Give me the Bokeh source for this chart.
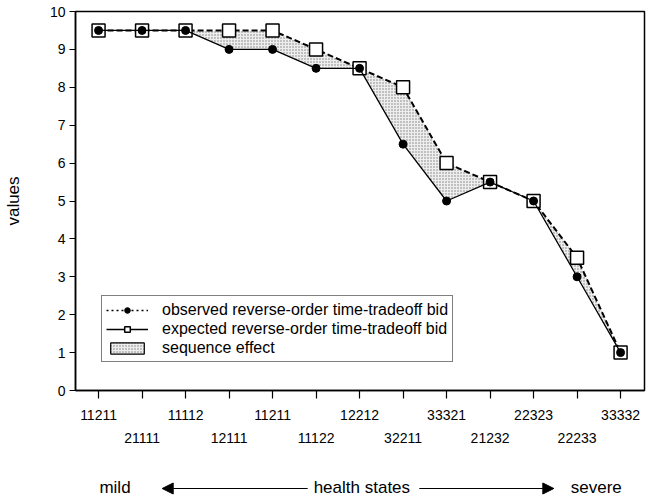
from bokeh.plotting import figure
from bokeh.layouts import column
from bokeh.models import (Range1d, FixedTicker, LinearAxis, Legend, LegendItem,
                          Arrow, NormalHead)
from bokeh.core.properties import value
from bokeh.embed import file_html
from bokeh.resources import INLINE

states = ["11211", "21111", "11112", "12111", "11211", "11122", "12212",
          "32211", "33321", "21232", "22323", "22233", "33332"]
observed = [9.5, 9.5, 9.5, 9.0, 9.0, 8.5, 8.5, 6.5, 5.0, 5.5, 5.0, 3.0, 1.0]
expected = [9.5, 9.5, 9.5, 9.5, 9.5, 9.0, 8.5, 8.0, 6.0, 5.5, 5.0, 3.5, 1.0]
y_ticks = list(range(0, 11))
caption_texts = ["mild", "health states", "severe"]
idx = list(range(len(states)))

FONT = "Liberation Sans"
W, H1, H2 = 646, 458, 38
BL, BR = 73, 2
NAN = [float("nan")]

p = figure(width=W, height=H1, output_backend="svg", toolbar_location=None,
           x_range=Range1d(-0.53, 12.55), y_range=Range1d(0, 10),
           x_axis_type=None, y_axis_type=None,
           min_border_left=BL, min_border_right=BR, min_border_top=11,
           min_border_bottom=68)
p.grid.visible = False
p.outline_line_color = "black"
p.outline_line_width = 1.5
p.background_fill_color = "white"
p.border_fill_color = "white"

# y axis
ya = LinearAxis(ticker=FixedTicker(ticks=y_ticks), axis_label="values")
ya.axis_line_width = 1.5
ya.major_tick_out = 6
ya.major_tick_in = 0
ya.major_tick_line_width = 1.2
ya.minor_tick_line_color = None
ya.major_label_text_font = FONT
ya.major_label_text_font_size = "14px"
ya.major_label_text_color = "black"
ya.major_label_standoff = 4
ya.axis_label_text_font = FONT
ya.axis_label_text_font_size = "17px"
ya.axis_label_text_font_style = "normal"
ya.axis_label_text_color = "black"
ya.axis_label_standoff = 24
p.add_layout(ya, "left")

# x axis, first row of labels
xa1 = LinearAxis(ticker=FixedTicker(ticks=idx))
xa1.major_label_overrides = {i: (states[i] if i % 2 == 0 else "") for i in idx}
xa1.axis_line_width = 1.5
xa1.major_tick_out = 8
xa1.major_tick_in = 0
xa1.major_tick_line_width = 1.2
xa1.minor_tick_line_color = None
xa1.major_label_text_font = FONT
xa1.major_label_text_font_size = "14px"
xa1.major_label_text_color = "black"
xa1.major_label_standoff = 11
p.add_layout(xa1, "below")

# x axis, second row of labels
odd = [i for i in idx if i % 2 == 1]
xa2 = LinearAxis(ticker=FixedTicker(ticks=odd))
xa2.major_label_overrides = {i: states[i] for i in odd}
xa2.axis_line_color = None
xa2.major_tick_line_color = None
xa2.major_tick_out = 0
xa2.major_tick_in = 0
xa2.minor_tick_line_color = None
xa2.major_label_text_font = FONT
xa2.major_label_text_font_size = "14px"
xa2.major_label_text_color = "black"
xa2.major_label_standoff = 10
p.add_layout(xa2, "below")

# sequence effect area
p.varea(x=idx, y1=observed, y2=expected, fill_color="#eeeeee",
        hatch_pattern="dot", hatch_color="#7a7a7a", hatch_scale=3,
        hatch_weight=1)

# expected: dashed line with open squares
p.line(idx, expected, line_color="black", line_width=2, line_dash="6 3")
p.scatter(idx, expected, marker="square", size=13, fill_color="white",
          line_color="black", line_width=1.5)
# observed: solid line with filled circles
p.line(idx, observed, line_color="black", line_width=1.3)
p.scatter(idx, observed, marker="circle", size=8, fill_color="black",
          line_color="black")

# legend-only renderers (styled as in the reference legend)
lo_line = p.line(x=NAN, y=NAN, line_color="black", line_width=1.3, line_dash="2 3")
lo_pt = p.scatter(x=NAN, y=NAN, marker="circle", size=8, fill_color="black",
                  line_color="black")
le_line = p.line(x=NAN, y=NAN, line_color="black", line_width=1.3)
le_pt = p.scatter(x=NAN, y=NAN, marker="square", size=12, fill_color="white",
                  line_color="black", line_width=1.5)
ls_q = p.quad(left=NAN, right=NAN, top=NAN, bottom=NAN, fill_color="#eeeeee",
              hatch_pattern="dot", hatch_color="#7a7a7a", hatch_scale=3,
              line_color="black", line_width=1.2)

legend = Legend(items=[
    LegendItem(label="observed reverse-order time-tradeoff bid",
               renderers=[lo_line, lo_pt]),
    LegendItem(label="expected reverse-order time-tradeoff bid",
               renderers=[le_line, le_pt]),
    LegendItem(label="sequence effect", renderers=[ls_q]),
], location=(26, 28))
legend.label_text_font = FONT
legend.label_text_font_size = "16px"
legend.label_text_color = "black"
legend.label_height = 19
legend.glyph_height = 14
legend.glyph_width = 42
legend.label_standoff = 14
legend.spacing = 0
legend.padding = 4
legend.margin = 0
legend.border_line_color = "black"
legend.border_line_width = 1.5
legend.background_fill_alpha = 1
p.add_layout(legend, "center")

# caption strip: mild <---- health states ----> severe
# (its frame is aligned with the main frame; x range = page pixels of that frame)
c = figure(width=W, height=H2, output_backend="svg", toolbar_location=None,
           x_range=Range1d(BL, W - BR), y_range=Range1d(0, H2),
           x_axis_type=None, y_axis_type=None,
           min_border_left=BL, min_border_right=BR,
           min_border_top=0, min_border_bottom=0)
c.grid.visible = False
c.outline_line_color = None
c.border_fill_color = "white"
c.background_fill_color = "white"
c.text(x=[97, 312, 570], y=[9, 9, 9], text=caption_texts,
       text_font=value(FONT), text_font_size="17px", text_color="black",
       text_baseline="middle", text_align="left")
c.add_layout(Arrow(x_start=306, y_start=8, x_end=160, y_end=8,
                   line_color="black", line_width=1,
                   end=NormalHead(size=11, fill_color="black", line_color="black")))
c.add_layout(Arrow(x_start=418, y_start=8, x_end=553, y_end=8,
                   line_color="black", line_width=1,
                   end=NormalHead(size=11, fill_color="black", line_color="black")))

layout = column(p, c, spacing=0)
open("out.html", "w").write(file_html(layout, INLINE))
